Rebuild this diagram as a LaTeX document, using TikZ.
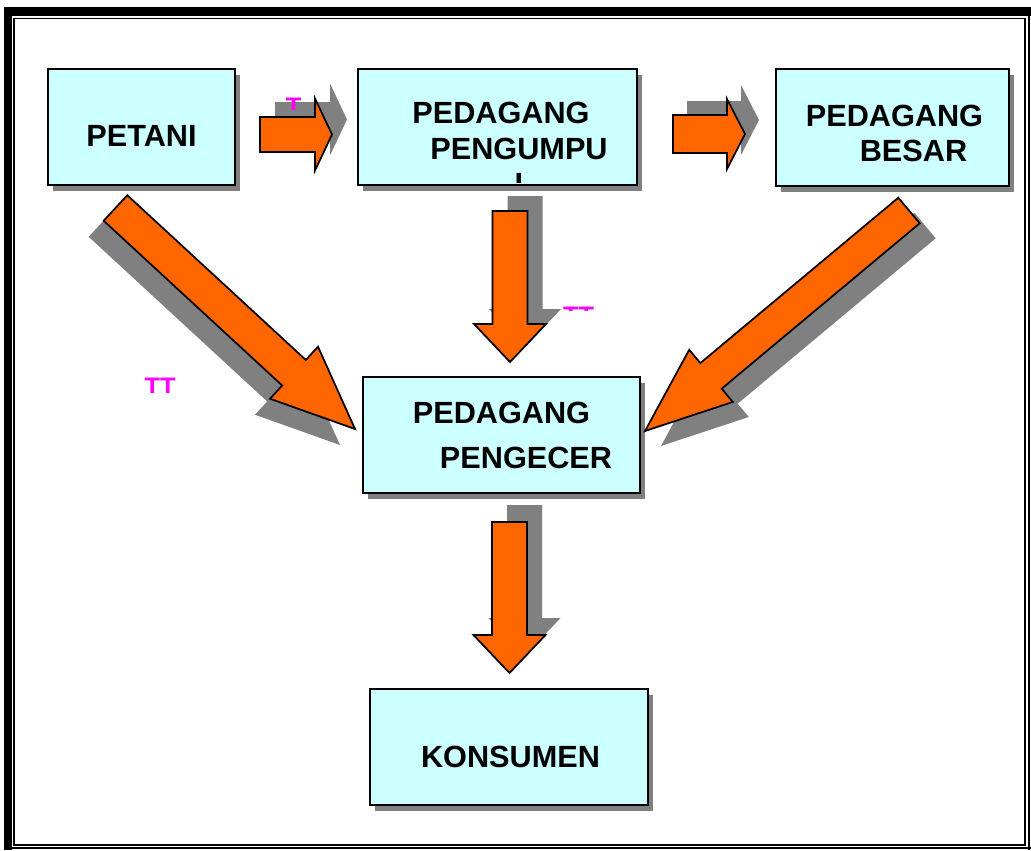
\documentclass[tikz,border=0pt]{standalone}
\usepackage{fontspec}
\setmainfont{Liberation Sans}
\usetikzlibrary{calc,shadows}
\definecolor{boxfill}{HTML}{CCFFFF}
\definecolor{arrowfill}{HTML}{FF6600}
\definecolor{shadowgray}{HTML}{808080}
\definecolor{markc}{HTML}{FF00FF}
% #1 name, #2 tail, #3 tip, #4 shaft half width, #5 head half width, #6 head length, #7 shadow xshift, #8 shadow yshift
\newcommand\myblockarrow[8]{%
  \coordinate (#1b) at ($(#3)!#6!(#2)$);
  \fill[arrowshadow, transform canvas={xshift=#7, yshift=#8}]
    ($(#2)!#4!90:(#3)$) -- ($(#1b)!#4!90:(#3)$) -- ($(#1b)!#5!90:(#3)$) -- (#3)
    -- ($(#1b)!#5!-90:(#3)$) -- ($(#1b)!#4!-90:(#3)$) -- ($(#2)!#4!-90:(#3)$) -- cycle;
  \filldraw[arrowbody]
    ($(#2)!#4!90:(#3)$) -- ($(#1b)!#4!90:(#3)$) -- ($(#1b)!#5!90:(#3)$) -- (#3)
    -- ($(#1b)!#5!-90:(#3)$) -- ($(#1b)!#4!-90:(#3)$) -- ($(#2)!#4!-90:(#3)$) -- cycle;
}
\begin{document}
\begin{tikzpicture}[x=0.75pt,y=-0.75pt,
  box/.style={draw=black, line width=1.3pt, fill=boxfill, inner sep=0pt,
    drop shadow={shadow xshift=3.75pt, shadow yshift=-4.5pt, fill=shadowgray, opacity=1}},
  lbl/.style={inner sep=0pt, font=\fontsize{23}{27}\selectfont\bfseries},
  mk/.style={inner sep=0pt, anchor=north, text=markc, font=\fontsize{19}{22}\selectfont\bfseries},
  arrowbody/.style={fill=arrowfill, draw=black, line width=1.3pt, line join=miter},
  arrowshadow/.style={fill=shadowgray},
  framethin/.style={draw=black, line width=1.1pt}]

\useasboundingbox (0,0) rectangle (1031,850);
\fill[white] (0,0) rectangle (1031,850);

% frame
\fill[black] (4,7) rectangle (1031,16);
\fill[black] (4,7) rectangle (12,850);
\draw[framethin] (14,18.5) rectangle (1025,845);
\draw[framethin] (1029,16) -- (1029,850);
\draw[framethin] (12,848) -- (1031,848);

% boxes
\node[box, minimum width=140.25pt, minimum height=87pt] (petani) at (141.5,127) {};
\node[box, minimum width=209.25pt, minimum height=87pt] (pengumpul) at (497.5,127) {};
\node[box, minimum width=174.75pt, minimum height=87.75pt] (besar) at (892.5,127.5) {};
\node[box, minimum width=207.75pt, minimum height=87pt] (pengecer) at (501.5,435) {};
\node[box, minimum width=208.5pt, minimum height=87pt] (konsumen) at (509,747) {};

% labels
\node[lbl] (t-petani) at (141.5,136) {PETANI};
\node[lbl] (t-pengumpul1) at (501,112.5) {PEDAGANG};
\node[lbl] (t-pengumpul2) at (519,149) {PENGUMPU};
\begin{scope}
  \clip (359,70) rectangle (636,182.5);
  \node[lbl, anchor=north] (t-pengumpul3) at (524,173.5) {L};
\end{scope}
\node[lbl] (t-besar1) at (894.5,116) {PEDAGANG};
\node[lbl] (t-besar2) at (913.5,151) {BESAR};
\node[lbl] (t-pengecer1) at (501.5,412.5) {PEDAGANG};
\node[lbl] (t-pengecer2) at (526,457.5) {PENGECER};
\node[lbl] (t-konsumen) at (510.5,757) {KONSUMEN};

% arrow end points
\coordinate (a1t) at (260,134.5);  \coordinate (a1h) at (332,134.5);
\coordinate (a2t) at (673,134);    \coordinate (a2h) at (745,134);
\coordinate (a3t) at (510,211);    \coordinate (a3h) at (510,362);
\coordinate (a4t) at (509.5,522);  \coordinate (a4h) at (509.5,673);
\coordinate (a5t) at (115.5,208);  \coordinate (a5h) at (355,429);
\coordinate (a6t) at (909,210.5);  \coordinate (a6h) at (645,431);

\myblockarrow{a1}{a1t}{a1h}{13.125pt}{27pt}{12.75pt}{11.25pt}{11.25pt}
\myblockarrow{a2}{a2t}{a2h}{14.25pt}{26.25pt}{13.5pt}{10.5pt}{10.5pt}
\myblockarrow{a3}{a3t}{a3h}{13.125pt}{27pt}{28.5pt}{11.25pt}{11.25pt}
\myblockarrow{a4}{a4t}{a4h}{13.125pt}{27pt}{28.5pt}{11.25pt}{12.75pt}
\myblockarrow{a5}{a5t}{a5h}{13.05pt}{26.55pt}{62.25pt}{-11.25pt}{-12pt}
\myblockarrow{a6}{a6t}{a6h}{12.5pt}{25.5pt}{64.5pt}{12pt}{-11.25pt}

% magenta fragments
\begin{scope}
  \clip (280,90) rectangle (310,109);
  \node[mk] (m1) at (293.5,98) {T};
\end{scope}
\begin{scope}
  \clip (555,300) rectangle (600,310);
  \node[mk] (m2) at (578.5,307) {TT};
\end{scope}
\begin{scope}
  \clip (140,370) rectangle (180,392);
  \node[mk] (m3) at (160,378) {TT};
\end{scope}
\end{tikzpicture}
\end{document}
